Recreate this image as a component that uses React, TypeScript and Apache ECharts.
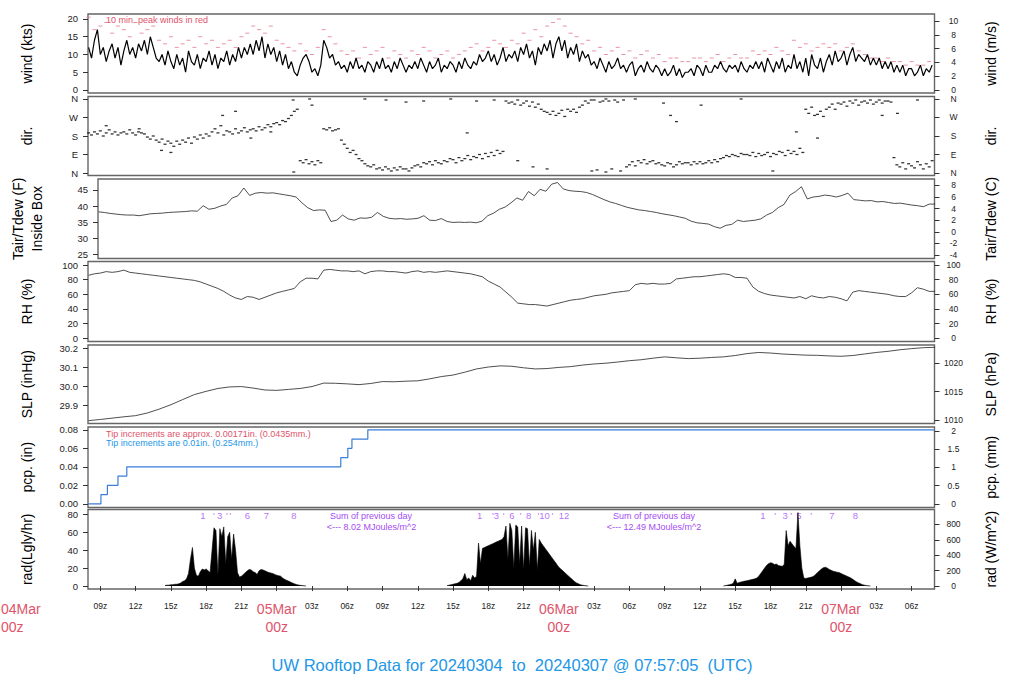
import React, { useEffect, useRef } from "react";
import * as echarts from "echarts";

// ---------- time axis (hours since 2024-03-04 00z) ----------
const X_MIN = 7.95;
const X_MAX = 79.95;
const xTickHours = [9, 12, 15, 18, 21, 24, 27, 30, 33, 36, 39, 42, 45, 48, 51, 54, 57, 60, 63, 66, 69, 72, 75, 78];

// ---------- wind (kts), every 15 min from 08z ----------
const windStart = 8;
const windStep = 0.25;
const windKts = [
  12, 9, 14, 17, 10, 12, 8, 11, 13, 9, 12, 7, 11, 14, 10, 12,
  9, 13, 11, 14, 10, 15, 12, 9, 8, 10, 7, 11, 8, 6, 10, 7,
  9, 5, 11, 8, 7, 10, 6, 9, 8, 11, 7, 10, 6, 9, 8, 11,
  7, 10, 8, 12, 9, 12, 10, 13, 10, 14, 11, 15, 9, 13, 10, 12,
  8, 11, 7, 10, 6, 8, 5, 4, 7, 9, 10, 8, 5, 6, 4, 7,
  14, 12, 9, 10, 7, 8, 6, 7, 5, 8, 6, 9, 6, 7, 5, 8,
  7, 5, 8, 6, 9, 6, 7, 5, 8, 6, 9, 7, 5, 7, 6, 8,
  6, 9, 7, 5, 8, 6, 7, 9, 5, 7, 6, 8, 7, 5, 8, 6,
  9, 7, 6, 8, 7, 10, 8, 9, 11, 8, 10, 7, 9, 12, 8, 10,
  9, 11, 8, 12, 10, 13, 9, 11, 7, 12, 10, 13, 11, 14, 9, 13,
  15, 11, 14, 9, 12, 10, 13, 8, 11, 9, 10, 7, 8, 6, 9, 7,
  5, 8, 6, 7, 9, 6, 7, 5, 7, 8, 4, 6, 7, 5, 8, 6,
  5, 7, 6, 4, 6, 4, 5, 7, 4, 6, 3.5, 5, 5, 6, 4, 7,
  6, 4, 7, 5, 5, 7, 6, 8, 6, 5, 7, 6, 7, 5, 8, 6,
  5, 7, 6, 8, 6, 8, 5, 9, 7, 5, 8, 6, 9, 5, 7, 6,
  10, 6, 8, 5, 9, 4, 10, 7, 6, 9, 5, 8, 10, 7, 11, 8,
  9, 11, 7, 10, 12, 8, 10, 9, 8, 10, 7, 9, 7, 9, 6, 8,
  6, 8, 5, 7, 5, 7, 4, 6, 6, 4, 5, 7, 4, 6, 5, 7,
];

// ---------- 10-min peak wind (kts), every 30 min from 08z ----------
const peakStart = 8;
const peakStep = 0.5;
const peakKts = [
  20.5, 17, 18, 19, 16, 18, 17, 15, 19, 16, 17, 18, 14, 13, 15, 12,
  13, 14, 12, 15, 13, 14, 12, 13, 14, 12, 15, 16, 18, 17, 16, 18,
  14, 13, 12, 11, 13, 11, 10, 12, 17, 15, 13, 11, 10, 11, 9, 12,
  10, 11, 12, 9, 11, 10, 9, 11, 10, 12, 11, 9, 10, 11, 9, 10,
  11, 12, 13, 11, 12, 14, 13, 12, 14, 13, 16, 14, 17, 15, 18, 19,
  20, 18, 16, 15, 13, 14, 11, 12, 10, 11, 12, 10, 11, 9, 10, 11,
  9, 10, 8, 9, 9, 8, 8, 9, 9, 8, 9, 10, 8, 9, 10, 9,
  9, 11, 10, 11, 10, 12, 11, 10, 14, 12, 13, 11, 12, 13, 12, 13,
  11, 12, 13, 11, 10, 9, 9, 8, 9, 8, 8, 7, 8, 7, 7, 8,
];

// ---------- wind direction (deg), every 15 min from 08z ----------
const dirStart = 8;
const dirStep = 0.25;
const dirDeg = [
  195, 185, 200, 190, 205, 180, 195, 210, 190, 200, 185, 195, 200, 190, 210, 195,
  185, 200, 195, 190, 175, 165, 180, 160, 150, 165, 140, 155, 145, 130, 155, 140,
  160, 150, 170, 145, 175, 165, 185, 170, 190, 180, 200, 215, 195, 230, 185, 205,
  200, 190, 215, 195, 205, 220, 200, 210, 215, 205, 225, 210, 220, 235, 225, 240,
  245, 235, 255, 250, 265, 280, 300, 310, 60, 50, 65, 45, 55, 40, 60, 50,
  215, 210, 220, 205, 210, 215, 160, 140, 120, 100, 110, 90, 70, 60, 45, 35,
  30, 40, 20, 25, 15, 30, 20, 10, 25, 15, 30, 20, 20, 10, 25, 35,
  40, 30, 50, 45, 55, 40, 60, 50, 45, 60, 55, 70, 65, 50, 75, 60,
  70, 85, 65, 80, 75, 90, 70, 95, 80, 100, 85, 110, 95, 105, 350, 340,
  345, 335, 355, 330, 340, 350, 325, 345, 320, 335, 310, 300, 295, 285, 300, 280,
  290, 305, 275, 310, 300, 310, 295, 320, 330, 350, 340, 355, 355, 15, 345, 350,
  5, 350, 20, 355, 345, 10, 355, 30, 40, 55, 35, 60, 50, 65, 45, 55,
  60, 45, 50, 40, 35, 50, 45, 30, 40, 55, 45, 50, 50, 40, 55, 45,
  55, 45, 50, 60, 50, 65, 55, 70, 75, 85, 80, 90, 85, 80, 95, 90,
  90, 85, 100, 80, 95, 85, 90, 100, 80, 95, 90, 105, 100, 85, 110, 95,
  105, 90, 120, 100, 310, 290, 320, 280, 285, 300, 275, 310, 320, 335, 310, 340,
  335, 345, 325, 350, 340, 355, 330, 345, 350, 340, 355, 335, 345, 355, 340, 350,
  350, 345, 75, 40, 30, 50, 20, 45, 35, 25, 55, 40, 20, 45, 30, 60,
];
const dirOutlierHours = [9.5, 12.3, 14.2, 15.0, 19.4, 20.5, 21.8, 23.5, 25.4, 25.45, 26.8, 27.0, 31.5, 33.3, 35.0, 36.5, 38.8, 40.2, 41.0, 42.5, 44.5, 45.8, 47.0, 50.8, 52.0, 54.5, 56.9, 57.5, 58.0, 60.1, 63.5, 66.2, 68.2, 70.0, 75.5, 76.8, 78.5];
const dirOutlierDeg = [230, 215, 110, 100, 280, 300, 170, 200, 355, 5, 360, 330, 360, 355, 345, 350, 360, 195, 350, 355, 60, 30, 20, 10, 360, 360, 340, 280, 250, 330, 360, 10, 200, 170, 280, 290, 355];

// ---------- temperature (F) and RH (%), every 30 min from 08z ----------
const tempStart = 8;
const tempStep = 0.5;
const tempF = [
  38.2, 38.0, 37.7, 37.5, 37.3, 37.2, 37.2, 37.0, 37.3, 37.6, 37.7, 37.8, 38.0, 38.1, 38.2, 38.3,
  38.5, 38.4, 40.1, 39.0, 39.3, 40.0, 40.5, 42.5, 43.2, 45.6, 43.3, 44.0, 44.2, 44.0, 44.1, 43.8,
  43.5, 43.2, 42.8, 41.0, 39.5, 38.6, 38.8, 38.7, 35.2, 35.6, 37.2, 36.0, 35.6, 36.3, 36.2, 36.5,
  38.0, 36.8, 36.2, 36.0, 36.1, 35.9, 36.0, 36.2, 37.0, 35.6, 35.5, 36.1, 35.2, 34.9, 35.0, 34.9,
  35.0, 34.8, 35.3, 37.0, 37.8, 39.0, 39.7, 41.0, 42.5, 41.8, 44.5, 43.2, 45.2, 44.6, 46.8, 47.3,
  45.3, 44.8, 44.6, 44.5, 44.2, 43.6, 42.8, 42.0, 41.3, 40.8, 40.2, 39.6, 39.2, 38.8, 38.6, 38.3,
  38.0, 37.6, 37.3, 37.0, 36.6, 36.2, 35.3, 34.8, 34.6, 34.4, 33.6, 33.1, 34.0, 34.3, 35.6, 35.2,
  35.4, 35.6, 36.0, 37.2, 38.0, 39.5, 40.5, 43.4, 44.5, 46.0, 42.2, 42.8, 43.0, 43.4, 43.2, 42.8,
  43.3, 44.0, 42.0, 41.8, 41.6, 41.7, 41.3, 41.4, 41.1, 40.8, 40.9, 40.6, 40.3, 40.1, 39.8, 40.6,
  40.6,
];
const rhPct = [
  86, 88, 89, 91, 90, 91, 93, 90, 89, 88, 87, 86, 85, 84, 83, 82,
  81, 80, 79, 77, 74, 71, 68, 64, 59, 55, 53, 57, 56, 53, 56, 59,
  62, 64, 66, 68, 77, 82, 82, 81, 93, 94, 93, 92, 92, 91, 92, 88,
  91, 92, 92, 91, 91, 90, 89, 91, 92, 90, 91, 90, 91, 92, 91, 90,
  89, 88, 86, 84, 78, 74, 70, 63, 56, 48, 47, 46, 46, 45, 44, 46,
  48, 50, 52, 53, 54, 56, 58, 59, 60, 62, 63, 64, 65, 73, 75, 74,
  75, 74, 74, 75, 81, 82, 83, 84, 84, 85, 86, 87, 88, 87, 83, 83,
  82, 70, 64, 61, 59, 58, 57, 56, 55, 57, 54, 58, 56, 55, 57, 56,
  54, 51, 63, 65, 64, 63, 62, 61, 60, 58, 57, 57, 62, 69, 67, 64,
  64,
];

// ---------- sea level pressure (inHg), hourly from 08z ----------
const slpStart = 8;
const slpStep = 1;
const slpInHg = [
  29.822, 29.828, 29.835, 29.842, 29.848, 29.862, 29.882, 29.905, 29.932, 29.958, 29.975, 29.99,
  29.998, 30.0, 29.992, 29.982, 29.98, 29.985, 29.99, 30.0, 30.018, 30.017, 30.014, 30.01,
  30.016, 30.026, 30.025, 30.028, 30.03, 30.04, 30.052, 30.06, 30.075, 30.092, 30.102, 30.108,
  30.106, 30.098, 30.092, 30.094, 30.1, 30.104, 30.112, 30.118, 30.122, 30.128, 30.135, 30.14,
  30.148, 30.155, 30.15, 30.146, 30.148, 30.152, 30.155, 30.162, 30.172, 30.178, 30.175, 30.17,
  30.167, 30.164, 30.163, 30.16, 30.158, 30.162, 30.17, 30.178, 30.184, 30.192, 30.198, 30.203,
  30.205,
];

// ---------- accumulated precipitation (in) ----------
const pcpHours = [7.95, 9.05, 9.6, 10.5, 11.25, 29.45, 30.05, 30.4, 31.75, 79.95];
const pcpIn = [0, 0.01, 0.02, 0.03, 0.04, 0.05, 0.06, 0.07, 0.08, 0.08];

// ---------- solar radiation (Langley/hr), every 10 min during daylight ----------
const radStep = 1 / 6;
const radDay1Start = 14.5;
const radDay1 = [
  0.5, 1, 1, 1.5, 1.5, 2, 2, 2.5, 3.5, 5, 6, 8, 14, 30, 43, 20, 12, 11, 16, 19, 18, 19, 17, 15,
  40, 65, 62, 12, 64, 55, 66, 25, 55, 60, 30, 58, 40, 15, 10, 11, 13, 15, 17, 18.5, 18, 16, 15, 13,
  17, 18.5, 18, 17, 16, 15, 14.5, 14, 13, 12, 11.5, 11, 9, 7.5, 6.5, 5.5, 4.5, 3.5, 2.5, 1.8, 1.2, 0.8,
  0.5, 0.2, 0,
];
const radDay2Start = 38.5;
const radDay2 = [
  0.5, 1, 1.5, 2, 2.5, 3, 4, 6, 8, 14, 7, 9, 6, 12, 9, 11, 48, 25, 42, 43, 44, 45, 46, 47,
  48, 49, 50, 51, 52, 55, 67, 30, 70, 62, 20, 68, 66, 25, 67, 18, 65, 64, 22, 62, 40, 60, 18, 52,
  48, 45, 42, 39, 36, 33, 30, 27, 24, 21, 19, 17, 15, 13, 11, 9, 7, 5, 3.5, 2.5, 1.5, 1,
  0.5, 0.2, 0,
];
const radDay3Start = 62.0;
const radDay3 = [
  0, 0.5, 1, 1.5, 2, 3, 8, 3, 4, 4.5, 5, 5.5, 6, 6.5, 7, 7.5, 8, 9, 11, 14, 17, 20, 23, 25,
  26, 25.5, 24, 24.5, 23, 22.5, 22, 24, 62, 45, 50, 47, 44, 42, 82, 45, 20, 9, 8.5, 9, 9.5, 10, 11, 13,
  15, 17, 19, 20.5, 21, 20, 18.5, 17.5, 16.5, 16, 15.5, 15, 14, 13, 12, 11, 10, 9, 7.5, 6, 4.5, 3.5,
  2.5, 1.5, 1, 0.5, 0.2, 0,
];
const radMarkHours = [
  17.73, 18.66, 19.15, 19.77, 20.06, 21.5, 23.12, 25.47,
  41.26, 42.39, 42.68, 43.3, 44.0, 44.74, 45.42, 46.27, 46.78, 47.44, 48.43,
  65.35, 66.4, 67.25, 67.76, 68.41, 69.46, 71.22, 73.23,
];
const radMarkText = [
  "1", "'", "3", "'", "'", "6", "7", "8",
  "1", "'", "3", "'", "6", "'", "8", "'", "10", "'", "12",
  "1", "'", "3", "'", "5", "'", "7", "8",
];

const FONT = "Liberation Sans, Arial, Helvetica, sans-serif";
const RED = "#DF536B";
const BLUE = "#2297E6";
const PURPLE = "#A64BF4";

const compass: Record<number, string> = { 0: "N", 90: "E", 180: "S", 270: "W", 360: "N" };

const series2 = (start: number, step: number, vals: number[]) =>
  vals.map((v, i) => [start + i * step, v]);

const panels = [
  {
    top: 14, height: 79, lMin: -0.85, lMax: 21.4, lTicks: [0, 5, 10, 15, 20], lFmt: (v: number) => String(v),
    lName: "wind (kts)", conv: (v: number) => v * 0.514444, rTicks: [0, 2, 4, 6, 8, 10], rFmt: (v: number) => String(v), rName: "wind (m/s)",
  },
  {
    top: 96.5, height: 79, lMin: -12, lMax: 372, lTicks: [0, 90, 180, 270, 360], lFmt: (v: number) => compass[v],
    lName: "dir.", conv: (v: number) => v, rTicks: [0, 90, 180, 270, 360], rFmt: (v: number) => compass[v], rName: "dir.",
  },
  {
    top: 179, height: 79.5, lMin: 23.7, lMax: 48.4, lTicks: [25, 30, 35, 40, 45], lFmt: (v: number) => String(v),
    lName: "Tair/Tdew (F)\nInside Box", conv: (v: number) => ((v - 32) * 5) / 9, rTicks: [-4, -2, 0, 2, 4, 6, 8], rFmt: (v: number) => String(v), rName: "Tair/Tdew (C)",
  },
  {
    top: 261.5, height: 80, lMin: -4.4, lMax: 104.8, lTicks: [0, 20, 40, 60, 80, 100], lFmt: (v: number) => String(v),
    lName: "RH (%)", conv: (v: number) => v, rTicks: [0, 20, 40, 60, 80, 100], rFmt: (v: number) => String(v), rName: "RH (%)",
  },
  {
    top: 345, height: 78.5, lMin: 29.807, lMax: 30.217, lTicks: [29.9, 30.0, 30.1, 30.2], lFmt: (v: number) => v.toFixed(1),
    lName: "SLP (inHg)", conv: (v: number) => v * 33.8639, rTicks: [1010, 1015, 1020], rFmt: (v: number) => String(v), rName: "SLP (hPa)",
  },
  {
    top: 427, height: 80.5, lMin: -0.004, lMax: 0.083, lTicks: [0, 0.02, 0.04, 0.06, 0.08], lFmt: (v: number) => v.toFixed(2),
    lName: "pcp. (in)", conv: (v: number) => v * 25.4, rTicks: [0, 0.5, 1, 1.5, 2], rFmt: (v: number) => String(v), rName: "pcp. (mm)",
  },
  {
    top: 509.5, height: 79.5, lMin: -3.3, lMax: 85.4, lTicks: [0, 20, 40, 60, 80], lFmt: (v: number) => String(v),
    lName: "rad(Lgly/hr)", conv: (v: number) => v * 11.63, rTicks: [0, 200, 400, 600, 800], rFmt: (v: number) => String(v), rName: "rad (W/m^2)",
  },
];

function buildOption() {
  const grid = panels.map((p) => ({
    left: 88,
    right: 89.5,
    top: p.top,
    height: p.height,
    show: true,
    borderColor: "#666",
    borderWidth: 1.4,
    backgroundColor: "transparent",
  }));

  const xFmt = (v: number) => {
    const h = Math.round(v);
    const hod = ((h % 24) + 24) % 24;
    if (hod === 0) {
      const day = 4 + h / 24;
      return `{d|${String(day).padStart(2, "0")}Mar}\n{d|00z}`;
    }
    return `{t|${String(hod).padStart(2, "0")}z}`;
  };

  const xAxis = panels.map((p, i) => ({
    type: "value",
    gridIndex: i,
    min: X_MIN,
    max: X_MAX,
    show: i === panels.length - 1,
    axisLine: { show: false },
    splitLine: { show: false },
    axisTick: { show: true, customValues: xTickHours, length: 5, lineStyle: { color: "#333" } },
    axisLabel: {
      show: true,
      customValues: xTickHours,
      margin: 11,
      formatter: xFmt,
      rich: {
        t: { fontSize: 8.5, color: "#222", fontFamily: FONT, lineHeight: 12 },
        d: { fontSize: 14, color: RED, fontFamily: FONT, lineHeight: 18 },
      },
    },
  }));

  const yAxis: any[] = [];
  panels.forEach((p, i) => {
    yAxis.push({
      type: "value",
      gridIndex: i,
      position: "left",
      min: p.lMin,
      max: p.lMax,
      axisLine: { show: false },
      splitLine: { show: false },
      axisTick: { show: true, length: 5, customValues: p.lTicks, lineStyle: { color: "#333" } },
      axisLabel: { customValues: p.lTicks, formatter: p.lFmt, fontSize: 9.5, color: "#222", margin: 10, fontFamily: FONT },
      name: p.lName,
      nameLocation: "middle",
      nameRotate: 90,
      nameGap: 52,
      nameTextStyle: { fontSize: 14, color: "#000", fontFamily: FONT, lineHeight: 19 },
    });
    yAxis.push({
      type: "value",
      gridIndex: i,
      position: "right",
      min: p.conv(p.lMin),
      max: p.conv(p.lMax),
      axisLine: { show: false },
      splitLine: { show: false },
      axisTick: { show: true, length: 5, customValues: p.rTicks, lineStyle: { color: "#333" } },
      axisLabel: { customValues: p.rTicks, formatter: p.rFmt, fontSize: 8.5, color: "#222", margin: 19, align: "center", fontFamily: FONT },
      name: p.rName,
      nameLocation: "middle",
      nameRotate: 90,
      nameGap: 49,
      nameTextStyle: { fontSize: 14, color: "#000", fontFamily: FONT },
    });
  });

  const thinLine = (xi: number, data: number[][], color = "#111", width = 0.9) => ({
    type: "line",
    xAxisIndex: xi,
    yAxisIndex: xi * 2,
    data,
    showSymbol: false,
    symbol: "none",
    silent: true,
    lineStyle: { color, width },
  });

  const radArea = (start: number, vals: number[]) => ({
    type: "line",
    xAxisIndex: 6,
    yAxisIndex: 12,
    data: series2(start, radStep, vals),
    showSymbol: false,
    symbol: "none",
    silent: true,
    lineStyle: { color: "#000", width: 0.6 },
    areaStyle: { color: "#000", opacity: 1 },
  });

  const series: any[] = [
    thinLine(0, series2(windStart, windStep, windKts), "#000", 1.2),
    {
      type: "scatter",
      xAxisIndex: 0,
      yAxisIndex: 0,
      data: series2(peakStart, peakStep, peakKts),
      symbol: "rect",
      symbolSize: [4, 1],
      silent: true,
      itemStyle: { color: "#E5788F" },
    },
    {
      type: "scatter",
      xAxisIndex: 1,
      yAxisIndex: 2,
      data: series2(dirStart, dirStep, dirDeg),
      symbol: "rect",
      symbolSize: [3, 1.3],
      silent: true,
      itemStyle: { color: "#000" },
    },
    {
      type: "scatter",
      xAxisIndex: 1,
      yAxisIndex: 2,
      data: dirOutlierHours.map((h, i) => [h, dirOutlierDeg[i]]),
      symbol: "rect",
      symbolSize: [3, 1.3],
      silent: true,
      itemStyle: { color: "#000" },
    },
    thinLine(2, series2(tempStart, tempStep, tempF), "#222", 0.8),
    thinLine(3, series2(tempStart, tempStep, rhPct), "#222", 0.8),
    thinLine(4, series2(slpStart, slpStep, slpInHg), "#222", 0.8),
    {
      type: "line",
      xAxisIndex: 5,
      yAxisIndex: 10,
      data: pcpHours.map((h, i) => [h, pcpIn[i]]),
      step: "end",
      showSymbol: false,
      symbol: "none",
      silent: true,
      lineStyle: { color: "#3B7DD8", width: 1.2 },
    },
    radArea(radDay1Start, radDay1),
    radArea(radDay2Start, radDay2),
    radArea(radDay3Start, radDay3),
    {
      type: "scatter",
      xAxisIndex: 6,
      yAxisIndex: 12,
      data: radMarkHours.map((h, i) => [h, 79, radMarkText[i]]),
      symbolSize: 1,
      silent: true,
      itemStyle: { color: "rgba(0,0,0,0)" },
      label: {
        show: true,
        position: "inside",
        formatter: (p: any) => p.data[2],
        color: PURPLE,
        fontSize: 9.5,
        fontFamily: FONT,
      },
    },
  ];

  const txt = (text: string, x: number, y: number, fill: string, fontSize: number, align = "left") => ({
    type: "text",
    x,
    y,
    silent: true,
    style: { text, fill, fontSize, fontFamily: FONT, align, verticalAlign: "middle" },
  });

  const graphic = [
    txt("10 min. peak winds in red", 106, 20, RED, 9),
    txt("Tip increments are approx. 0.00171in. (0.0435mm.)", 106, 433.5, RED, 9),
    txt("Tip increments are 0.01in. (0.254mm.)", 106, 442.5, BLUE, 9),
    txt("Sum of previous day", 371, 515.5, PURPLE, 9, "center"),
    txt("<--- 8.02 MJoules/m^2", 371.5, 526.5, PURPLE, 9, "center"),
    txt("Sum of previous day", 654, 515.5, PURPLE, 9, "center"),
    txt("<--- 12.49 MJoules/m^2", 654, 526.5, PURPLE, 9, "center"),
    txt("04Mar", 1, 609, RED, 14, "left"),
    txt("00z", 1, 627, RED, 14, "left"),
  ];

  return {
    animation: false,
    backgroundColor: "#fff",
    textStyle: { fontFamily: FONT },
    title: {
      text: "UW Rooftop Data for 20240304  to  20240307 @ 07:57:05  (UTC)",
      left: "center",
      top: 651,
      textStyle: { color: BLUE, fontSize: 16.5, fontWeight: "normal", fontFamily: FONT },
    },
    grid,
    xAxis,
    yAxis,
    series,
    graphic,
  };
}

export default function App() {
  const ref = useRef<HTMLDivElement>(null);
  useEffect(() => {
    if (!ref.current) return;
    const chart = echarts.init(ref.current, undefined, { renderer: "svg" });
    chart.setOption(buildOption() as any);
    return () => chart.dispose();
  }, []);
  return (
    <div
      ref={ref}
      style={{ position: "fixed", left: 0, top: 0, width: 1024, height: 700, background: "#fff" }}
    />
  );
}
